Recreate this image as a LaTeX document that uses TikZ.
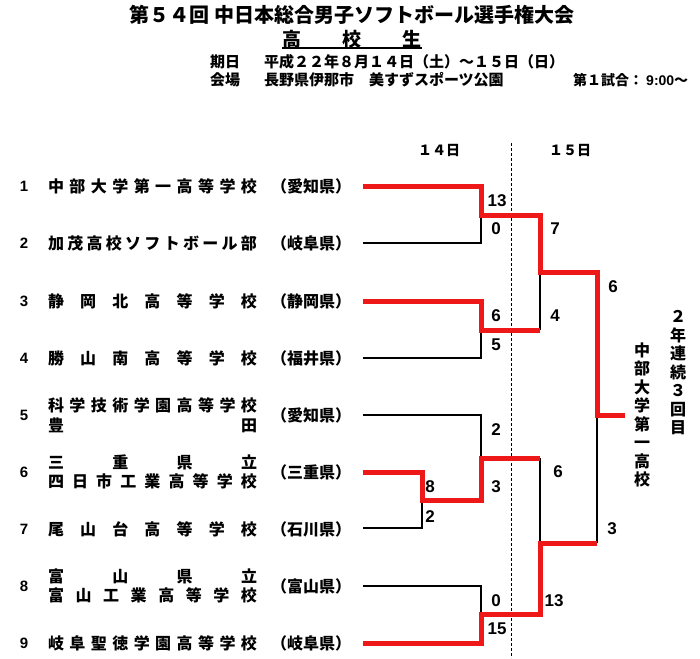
\documentclass[tikz,border=0pt]{standalone}
\usepackage{fontspec}
\setmainfont{Noto Sans CJK JP}
\newfontfamily\digitfont{Liberation Sans}
\makeatletter
\def\spout#1{\spout@i#1\@nil}
\def\spout@i#1#2\@nil{#1\ifx\relax#2\relax\else\hfill\spout@i#2\@nil\fi}
\makeatother
\newcommand{\nmbox}[1]{\makebox[209pt]{#1}}
\definecolor{brk}{RGB}{238,24,24}
\begin{document}
\begin{tikzpicture}[x=1pt,y=-1pt,
  every node/.style={inner sep=0pt, outer sep=0pt},
  ttl/.style={font=\bfseries\fontsize{20}{22}\selectfont},
  info/.style={anchor=west, font=\bfseries\fontsize{15}{17}\selectfont},
  num/.style={font=\digitfont\bfseries\fontsize{15}{17}\selectfont},
  tname/.style={anchor=west, align=left, font=\bfseries\fontsize{16}{19.5}\selectfont},
  pref/.style={font=\bfseries\fontsize{16}{18}\selectfont},
  score/.style={font=\digitfont\bfseries\fontsize{17}{19}\selectfont},
  daylbl/.style={font=\bfseries\fontsize{14}{16}\selectfont},
  vtxt/.style={align=center, font=\bfseries\fontsize{16}{18.5}\selectfont},
  winline/.style={draw=brk, line width=5pt, line join=miter},
  loseline/.style={draw=black, line width=1.4pt},
  dayline/.style={draw=black, line width=1pt, dash pattern=on 3pt off 2pt}]
\useasboundingbox[fill=white] (0,0) rectangle (700,658);

% header
\node[ttl] (title) at (352,15) {第５４回 中日本総合男子ソフトボール選手権大会};
\node[ttl, font=\bfseries\fontsize{19}{21}\selectfont, anchor=west] (sub) at (282,39) {\makebox[140pt]{高\hfill 校\hfill 生}};
\coordinate (ulA) at (282,48);
\coordinate (ulB) at (422,48);
\draw[line width=1.5pt] (ulA) -- (ulB);
\node[info] (dlbl) at (210,62) {期日};
\node[info] (dval) at (264,62) {平成２２年８月１４日（土）～１５日（日）};
\node[info] (vlbl) at (210,80) {会場};
\node[info] (vval) at (264,80) {長野県伊那市　美すずスポーツ公園};
\node[info, font=\bfseries\fontsize{14}{16}\selectfont] (first) at (573,80) {第１試合： {\digitfont 9:00}～};

% day labels
\node[daylbl] (d14) at (439,150) {１４日};
\node[daylbl] (d15) at (570,150) {１５日};
\coordinate (dtop) at (511,143);
\coordinate (dbot) at (511,658);
\draw[dayline] (dtop) -- (dbot);

% teams
\node[num] (n1) at (24,186.7) {1};
\node[tname] (t1) at (48,186.7) {\nmbox{\spout{中部大学第一高等学校}}};
\node[pref] (p1) at (311,186.7) {（愛知県）};
\node[num] (n2) at (24,243) {2};
\node[tname] (t2) at (48,243) {\nmbox{\spout{加茂高校ソフトボール部}}};
\node[pref] (p2) at (311,243) {（岐阜県）};
\node[num] (n3) at (24,301) {3};
\node[tname] (t3) at (48,301) {\nmbox{\spout{静岡北高等学校}}};
\node[pref] (p3) at (311,301) {（静岡県）};
\node[num] (n4) at (24,358) {4};
\node[tname] (t4) at (48,358) {\nmbox{\spout{勝山南高等学校}}};
\node[pref] (p4) at (311,358) {（福井県）};
\node[num] (n5) at (24,415) {5};
\node[tname] (t5) at (48,415) {\nmbox{\spout{科学技術学園高等学校}}\\\nmbox{豊\hfill 田}};
\node[pref] (p5) at (311,415) {（愛知県）};
\node[num] (n6) at (24,472) {6};
\node[tname] (t6) at (48,472) {\nmbox{\spout{三重県立}}\\\nmbox{\spout{四日市工業高等学校}}};
\node[pref] (p6) at (311,472) {（三重県）};
\node[num] (n7) at (24,529) {7};
\node[tname] (t7) at (48,529) {\nmbox{\spout{尾山台高等学校}}};
\node[pref] (p7) at (311,529) {（石川県）};
\node[num] (n8) at (24,586) {8};
\node[tname] (t8) at (48,586) {\nmbox{\spout{富山県立}}\\\nmbox{\spout{富山工業高等学校}}};
\node[pref] (p8) at (311,586) {（富山県）};
\node[num] (n9) at (24,643) {9};
\node[tname] (t9) at (48,643) {\nmbox{\spout{岐阜聖徳学園高等学校}}};
\node[pref] (p9) at (311,643) {（岐阜県）};

% bracket coordinates
\coordinate (e1) at (363,186.7);
\coordinate (e2) at (363,243);
\coordinate (e3) at (363,301);
\coordinate (e4) at (363,358);
\coordinate (e5) at (363,415);
\coordinate (e6) at (363,472);
\coordinate (e7) at (363,528);
\coordinate (e8) at (363,586);
\coordinate (e9) at (363,643);
\coordinate (g12) at (481,215.7);
\coordinate (g34) at (481,330);
\coordinate (g67) at (422,500);
\coordinate (g567) at (481,458);
\coordinate (g89) at (481,614);
\coordinate (s1) at (540,272.7);
\coordinate (s2) at (540,543);
\coordinate (f) at (597,415);
\coordinate (champ) at (625,415);

% losing lines
\draw[loseline] (e2) -| (g12);
\draw[loseline] (e4) -| (g34);
\draw[loseline] (g34 -| s1) -- (s1);
\draw[loseline] (e5) -| (g567);
\draw[loseline] (e7) -| (g67);
\draw[loseline] (g567 -| s1) -- (s2);
\draw[loseline] (e8) -| (g89);
\draw[loseline] (s2 -| f) -- (f);

% winning lines
\draw[winline] (e1) -| (g12) -| (s1) -| (f) -- (champ);
\draw[winline] (e3) -| (g34) -- (g34 -| s1);
\draw[winline] (e6) -| (g67) -| (g567) -- (g567 -| s1);
\draw[winline] (e9) -| (g89) -| (s2) -- (s2 -| f);

% scores
\node[score] (sc1) at (497,201) {13};
\node[score] (sc2) at (496,229) {0};
\node[score] (sc3) at (496,316) {6};
\node[score] (sc4) at (496,345) {5};
\node[score] (sc5) at (555,229) {7};
\node[score] (sc6) at (555,316) {4};
\node[score] (sc7) at (613,287) {6};
\node[score] (sc8) at (496,430) {2};
\node[score] (sc9) at (496,487) {3};
\node[score] (sc10) at (430,487) {8};
\node[score] (sc11) at (430,517) {2};
\node[score] (sc12) at (558,472) {6};
\node[score] (sc13) at (612,529) {3};
\node[score] (sc14) at (496,601) {0};
\node[score] (sc15) at (497,629) {15};
\node[score] (sc16) at (554,601) {13};

% champion
\node[vtxt] (chname) at (642,415) {中\\部\\大\\学\\第\\一\\高\\校};
\node[vtxt] (chnote) at (678,373) {２\\年\\連\\続\\３\\回\\目};
\end{tikzpicture}
\end{document}
